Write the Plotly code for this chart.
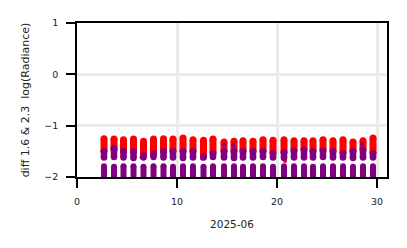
import plotly.graph_objects as go

# ---- data ----
day_centers = [2.7, 3.7, 4.65, 5.65, 6.65, 7.65, 8.65, 9.6, 10.6, 11.6, 12.65, 13.6, 14.7, 15.7,
               16.6, 17.6, 18.6, 19.6, 20.7, 21.7, 22.7, 23.6, 24.6, 25.6, 26.6, 27.6, 28.6, 29.6]
red_top = [-1.255, -1.26, -1.275, -1.26, -1.305, -1.26, -1.255, -1.26, -1.24, -1.275, -1.285, -1.26, -1.32, -1.305,
           -1.295, -1.305, -1.275, -1.285, -1.275, -1.295, -1.295, -1.295, -1.275, -1.295, -1.275, -1.32, -1.295, -1.24]
red_bot = [-1.50, -1.47, -1.50, -1.50, -1.56, -1.53, -1.50, -1.50, -1.50, -1.50, -1.59, -1.53, -1.50, -1.50,
           -1.50, -1.50, -1.50, -1.53, -1.52, -1.49, -1.47, -1.50, -1.48, -1.50, -1.53, -1.50, -1.47, -1.53]
purple_top = [-1.50, -1.44, -1.50, -1.50, -1.57, -1.54, -1.50, -1.50, -1.50, -1.50, -1.60, -1.54, -1.50, -1.50,
              -1.50, -1.50, -1.50, -1.54, -1.52, -1.49, -1.47, -1.50, -1.49, -1.50, -1.54, -1.50, -1.47, -1.54]
gap_top = [-1.62, -1.61, -1.62, -1.63, -1.62, -1.61, -1.62, -1.62, -1.63, -1.62, -1.62, -1.61, -1.62, -1.63,
           -1.62, -1.62, -1.61, -1.62, -1.63, -1.62, -1.62, -1.62, -1.61, -1.62, -1.62, -1.63, -1.62, -1.62]
gap_bot = [-1.79, -1.80, -1.79, -1.79, -1.80, -1.79, -1.79, -1.80, -1.79, -1.79, -1.80, -1.79, -1.79, -1.79,
           -1.80, -1.79, -1.79, -1.80, -1.79, -1.79, -1.79, -1.80, -1.79, -1.79, -1.79, -1.80, -1.79, -1.79]
purple_floor = -2.1

red_extra_x = [6.45, 12.5, 20.8]
red_extra_y = [-1.62, -1.64, -1.69]
purple_extra_x = [3.8, 14.75, 15.6, 28.5]
purple_extra_y = [-1.43, -1.36, -1.38, -1.36]

RED = "#ff0000"
PURPLE = "#800080"

def segs(xs, lo, hi):
    X, Y = [], []
    for x, a, b in zip(xs, lo, hi):
        X += [x, x, None]
        Y += [a, b, None]
    return X, Y

fig = go.Figure()
rx, ry = segs(day_centers, red_bot, red_top)
fig.add_trace(go.Scatter(x=rx, y=ry, mode="lines+markers", line=dict(color=RED, width=7),
                         marker=dict(color=RED, size=7), showlegend=False))
fig.add_trace(go.Scatter(x=red_extra_x, y=red_extra_y, mode="markers",
                         marker=dict(color=RED, size=4), showlegend=False))
px1, py1 = segs(day_centers, gap_top, purple_top)
fig.add_trace(go.Scatter(x=px1, y=py1, mode="lines+markers", line=dict(color=PURPLE, width=6.5),
                         marker=dict(color=PURPLE, size=6.5), showlegend=False))
px2, py2 = segs(day_centers, [purple_floor] * len(day_centers), gap_bot)
fig.add_trace(go.Scatter(x=px2, y=py2, mode="lines+markers", line=dict(color=PURPLE, width=6),
                         marker=dict(color=PURPLE, size=6), showlegend=False))
fig.add_trace(go.Scatter(x=purple_extra_x, y=purple_extra_y, mode="markers",
                         marker=dict(color=PURPLE, size=4), showlegend=False))

FONT = "DejaVu Sans"
axis_common = dict(
    showline=True, linecolor="black", linewidth=1.5, mirror=True,
    ticks="outside", ticklen=9, tickwidth=1.5, tickcolor="black",
    showgrid=True, gridcolor="#ebebeb", gridwidth=2.5, zeroline=False,
    tickfont=dict(family=FONT, size=9.5, color="#222"),
)
fig.update_xaxes(range=[0, 31], tickvals=[0, 10, 20, 30], ticklabelstandoff=6,
                 title=dict(text="2025-06", font=dict(family=FONT, size=10.5, color="#222"), standoff=14),
                 **axis_common)
fig.update_yaxes(range=[-2, 1], tickvals=[-2, -1, 0, 1], ticklabelstandoff=6,
                 title=dict(text="diff 1.6 &amp; 2.3\u00a0 log(Radiance)",
                            font=dict(family=FONT, size=11, color="#222"), standoff=12),
                 **axis_common)
fig.update_layout(
    width=407, height=248,
    margin=dict(l=77, r=20, t=23, b=71),
    paper_bgcolor="white", plot_bgcolor="white",
    showlegend=False,
)
fig.write_html("out.html")
